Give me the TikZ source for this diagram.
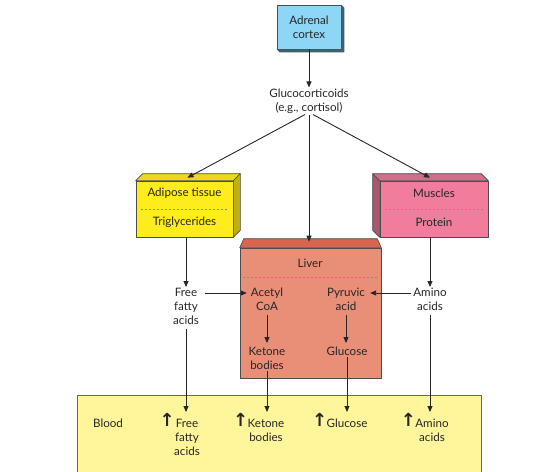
\documentclass[tikz,border=0pt]{standalone}
\usepackage{fontspec}
\setmainfont{Lato}
\newfontfamily\symfont{DejaVu Sans}
\usetikzlibrary{positioning,arrows.meta}

\definecolor{adrenalblue}{HTML}{8DD6F6}
\definecolor{adiposeyellow}{HTML}{FFEC1C}
\definecolor{musclepink}{HTML}{F17C9C}
\definecolor{liversalmon}{HTML}{E98F78}
\definecolor{livertop}{HTML}{D8654F}
\definecolor{bloodyellow}{HTML}{FFF59B}

\tikzset{
  lbl/.style={font=\fontsize{11.6}{14}\selectfont, align=center, inner sep=1pt, text=black!85},
  arr/.style={-{Triangle[length=6pt,width=5pt]}, line width=0.9pt, draw=black!85},
  face/.style={draw=black!70, line width=0.6pt, line join=round},
  sep/.style={draw=black!45, line width=0.5pt, dash pattern=on 2pt off 2pt},
  uparr/.style={font=\symfont\bfseries\fontsize{18}{18}\selectfont, inner sep=0pt, text=black!85}
}

\begin{document}
\begin{tikzpicture}[x=1pt,y=-1pt]
    \useasboundingbox (0,0) rectangle (558,472);

    %----- ADRENAL CORTEX -----
    \node[face, fill=adrenalblue, minimum width=64pt, minimum height=44pt] (adrenalbox) at (309,27) {};
    \fill[adrenalblue!45!black] (adrenalbox.south west) -- ++(3,3) -- ([shift={(3,3)}]adrenalbox.south east)
        -- ([shift={(3,3)}]adrenalbox.north east) -- (adrenalbox.north east) -- (adrenalbox.south east) -- cycle;
    \node[lbl] (adrenal) at (adrenalbox) {Adrenal\\cortex};

    \node[lbl] (gluco) at (309,101) {Glucocorticoids\\(e.g., cortisol)};

    %----- ADIPOSE TISSUE -----
    \node[face, fill=adiposeyellow, minimum width=97pt, minimum height=56pt] (adiposebox) at (184.5,209) {};
    \filldraw[face, fill=adiposeyellow!92!black] (adiposebox.north west) -- ++(7,-7)
        -- ([shift={(7,-7)}]adiposebox.north east) -- (adiposebox.north east) -- cycle;
    \filldraw[face, fill=adiposeyellow!75!black] (adiposebox.north east) -- ++(7,-7)
        -- ([shift={(7,-7)}]adiposebox.south east) -- (adiposebox.south east) -- cycle;
    \draw[sep] ([xshift=5pt]adiposebox.west) -- ([xshift=-5pt]adiposebox.east);
    \node[lbl] (adipose) at (184.5,193) {Adipose tissue};
    \node[lbl] (trig) at (184.5,222) {Triglycerides};

    %----- MUSCLES -----
    \node[face, fill=musclepink, minimum width=108pt, minimum height=56pt] (musclebox) at (434,209) {};
    \filldraw[face, fill=musclepink!88!black] (musclebox.north east) -- ++(-7,-7)
        -- ([shift={(-7,-7)}]musclebox.north west) -- (musclebox.north west) -- cycle;
    \filldraw[face, fill=musclepink!70!black] (musclebox.north west) -- ++(-7,-7)
        -- ([shift={(-7,-7)}]musclebox.south west) -- (musclebox.south west) -- cycle;
    \draw[sep] ([xshift=5pt]musclebox.west) -- ([xshift=-5pt]musclebox.east);
    \node[lbl] (muscles) at (434,193) {Muscles};
    \node[lbl] (protein) at (434,222) {Protein};

    %----- LIVER -----
    \node[face, fill=liversalmon, minimum width=141pt, minimum height=130pt] (liverbox) at (310.5,313) {};
    \filldraw[face, fill=livertop] (liverbox.north west) -- ++(4,-9)
        -- ([shift={(-4,-9)}]liverbox.north east) -- (liverbox.north east) -- cycle;
    \draw[sep] (243,277) -- (378,277);
    \node[lbl] (liver) at (310,263) {Liver};

    %----- BLOOD -----
    \filldraw[draw=black!60, line width=0.8pt, fill=bloodyellow] (77,395) rectangle (481,480);

    %----- TEXT ROWS -----
    \node[lbl, anchor=north] (ffa) at (186,287) {Free\\fatty\\acids};
    \node[lbl, anchor=north] (acetyl) at (267,287) {Acetyl\\CoA};
    \node[lbl, anchor=north] (pyruvic) at (346,287) {Pyruvic\\acid};
    \node[lbl, anchor=north] (amino) at (430,287) {Amino\\acids};
    \node[lbl, anchor=north] (ketone) at (267,346) {Ketone\\bodies};
    \node[lbl, anchor=north] (glucose) at (347,346) {Glucose};

    \node[lbl, anchor=north] (blood) at (108,418) {Blood};
    \node[lbl, anchor=north] (bffa) at (187,418) {Free\\fatty\\acids};
    \node[lbl, anchor=north] (bket) at (266,418) {Ketone\\bodies};
    \node[lbl, anchor=north] (bglu) at (347,418) {Glucose};
    \node[lbl, anchor=north] (bamino) at (432,418) {Amino\\acids};
    \foreach \n in {bffa,bket,bglu,bamino}
        \node[uparr, anchor=north east] (up\n) at ([xshift=2pt,yshift=4.5pt]\n.north west) {↑};

    %----- CONNECTORS -----
    \draw[arr] (adrenalbox.south) -- (gluco.north);
    \draw[arr] ([xshift=-4pt]gluco.south) -- ([xshift=3pt,yshift=3pt]adiposebox.north);
    \draw[arr] (gluco.south) -- ([yshift=6pt]liverbox.north -| gluco.south);
    \draw[arr] ([xshift=4pt]gluco.south) -- ([xshift=-4pt,yshift=3pt]musclebox.north);

    \draw[arr] (adiposebox.south -| ffa.north) -- (ffa.north);
    \draw[arr] (musclebox.south -| amino.north) -- (amino.north);
    \draw[arr] ([xshift=5pt,yshift=-6pt]ffa.north east) -- ([xshift=-3pt,yshift=-6pt]acetyl.north west);
    \draw[arr] ([xshift=-1pt,yshift=-6pt]amino.north west) -- ([xshift=4pt,yshift=-6pt]pyruvic.north east);
    \draw[arr] ([yshift=-3pt]acetyl.south) -- ([yshift=3pt]ketone.north);
    \draw[arr] ([yshift=-3pt]pyruvic.south) -- ([yshift=3pt]pyruvic.south |- glucose.north);

    \draw[arr] ([yshift=-3pt]ffa.south) -- ([yshift=6pt]ffa.south |- bffa.north);
    \draw[arr] (ketone.south) -- ([yshift=6pt]bket.north -| ketone.south);
    \draw[arr] (glucose.south) -- ([yshift=6pt]bglu.north);
    \draw[arr] ([yshift=-3pt]amino.south) -- ([yshift=6pt]bamino.north -| amino.south);

\end{tikzpicture}
\end{document}
